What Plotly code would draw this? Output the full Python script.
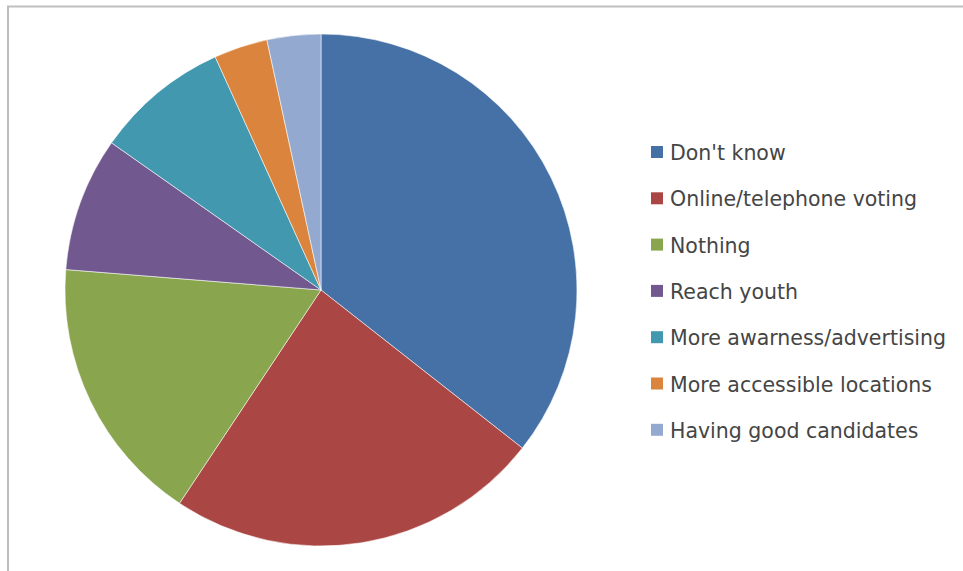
import plotly.graph_objects as go

# Survey responses: what would encourage more people to vote
labels = [
    "Don't know",
    "Online/telephone voting",
    "Nothing",
    "Reach youth",
    "More awarness/advertising",
    "More accessible locations",
    "Having good candidates",
]
counts = [21, 14, 10, 5, 5, 2, 2]
colors = ["#4571A6", "#AA4643", "#89A54E", "#71588F", "#4198AF", "#DB843D", "#93A9CF"]

W, H = 963, 571

# pie geometry in pixels
cx, cy, r = 321, 290, 256


def px_x(x):
    return x / W


def px_y(y):
    return 1 - y / H


fig = go.Figure(
    go.Pie(
        labels=labels,
        values=counts,
        sort=False,
        direction="clockwise",
        rotation=0,
        textinfo="none",
        hoverinfo="label+value+percent",
        marker=dict(colors=colors, line=dict(color="rgba(255,255,255,0.55)", width=1)),
        domain=dict(x=[px_x(cx - r), px_x(cx + r)], y=[px_y(cy + r), px_y(cy - r)]),
        showlegend=False,
    )
)

# legend drawn as colored squares with labels
shapes = []
annotations = []
row0, row_gap = 152, 46.3
for i, (lab, col) in enumerate(zip(labels, colors)):
    yc = row0 + i * row_gap
    shapes.append(
        dict(
            type="rect", xref="paper", yref="paper",
            x0=px_x(651), x1=px_x(663), y0=px_y(yc + 6), y1=px_y(yc - 6),
            fillcolor=col, line=dict(width=0),
        )
    )
    annotations.append(
        dict(
            text=lab, xref="paper", yref="paper",
            x=px_x(668), y=px_y(yc + 1), xanchor="left", yanchor="middle",
            showarrow=False, font=dict(family="DejaVu Sans", size=20.5, color="#454545"),
        )
    )

# chart frame (top and left edges)
shapes.append(dict(type="line", xref="paper", yref="paper",
                   x0=px_x(7), x1=1, y0=px_y(6.5), y1=px_y(6.5),
                   line=dict(color="#c0c0c0", width=2)))
shapes.append(dict(type="line", xref="paper", yref="paper",
                   x0=px_x(8), x1=px_x(8), y0=px_y(6), y1=0,
                   line=dict(color="#bdbdbd", width=2)))

fig.update_layout(
    width=W, height=H,
    margin=dict(l=0, r=0, t=0, b=0),
    paper_bgcolor="white",
    plot_bgcolor="white",
    shapes=shapes,
    annotations=annotations,
)

fig.write_html("out.html")
